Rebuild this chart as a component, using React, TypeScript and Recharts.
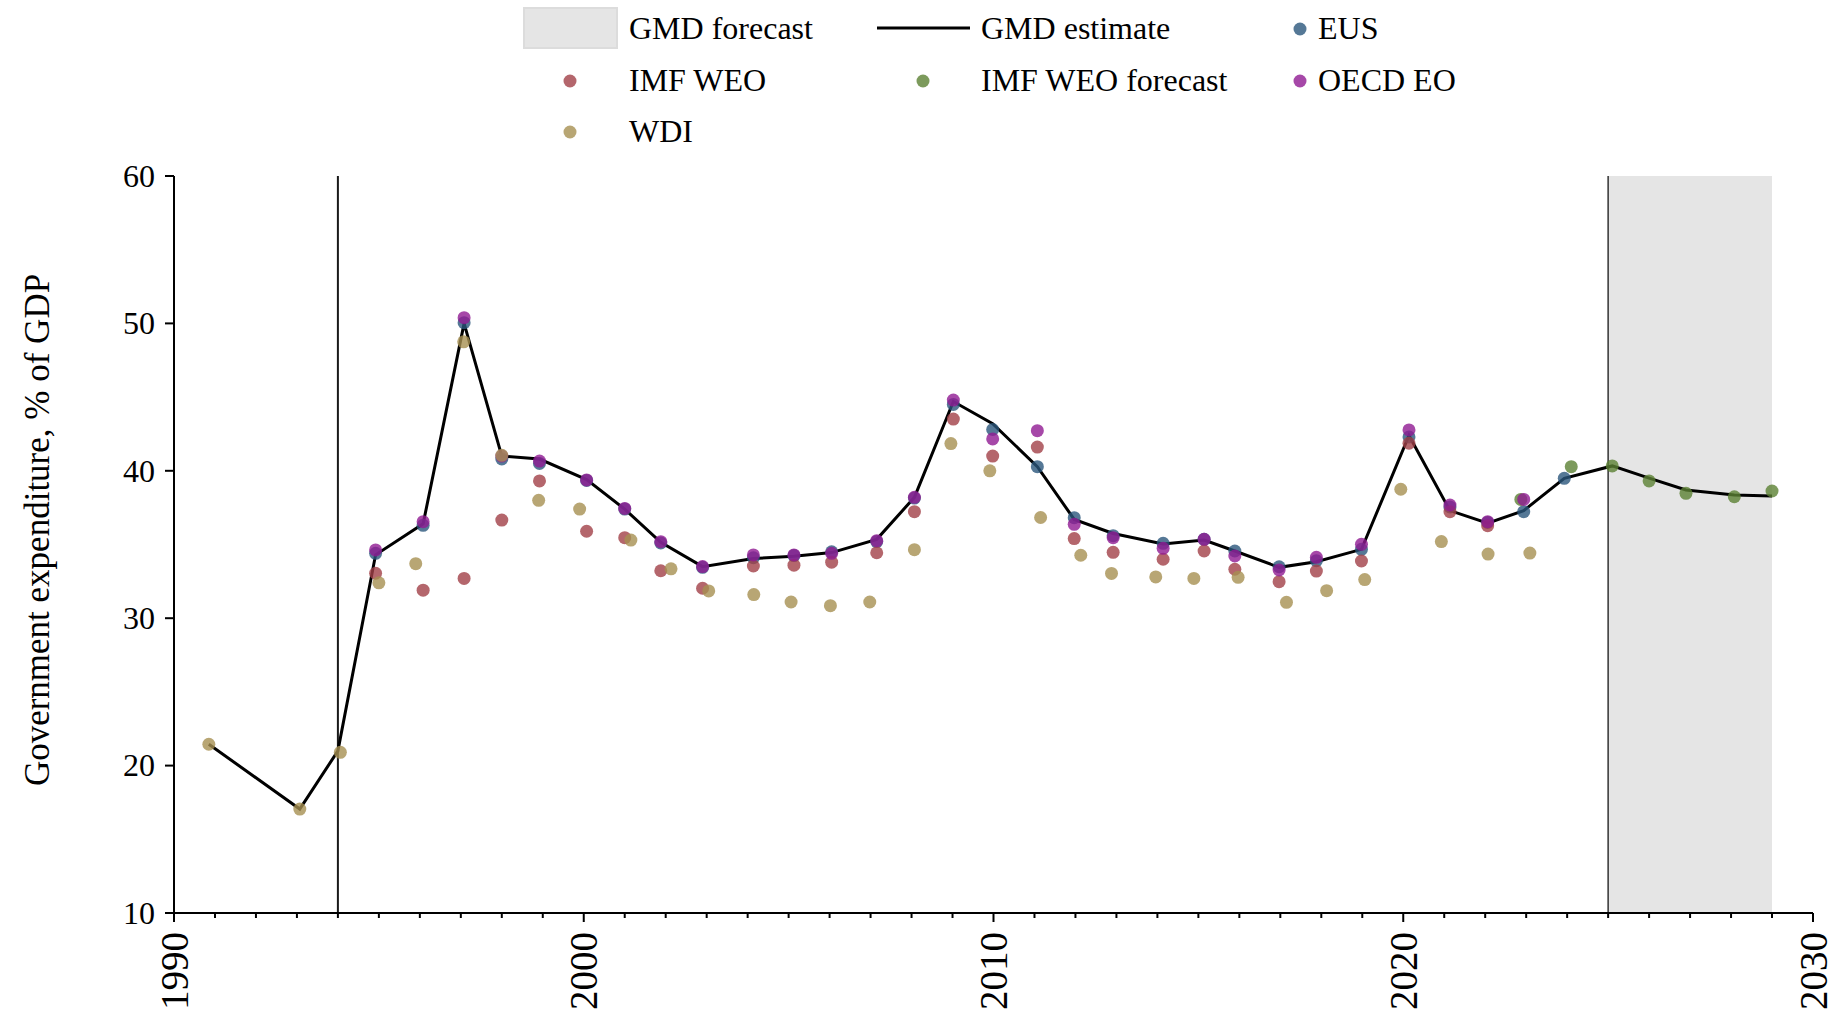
import {
  ComposedChart,
  Line,
  Scatter,
  XAxis,
  YAxis,
  ReferenceArea,
  ReferenceLine
} from "recharts";

type Pt = [number, number];

// [year, % of GDP] (years carry the small plotting offsets)
const gmdEstimate: Pt[] = [
  [1990.85, 21.45], [1993.07, 17.05], [1994.0, 21.0], [1994.92, 34.3], [1996.08, 36.4],
  [1997.08, 50.0], [1998.0, 41.0], [1998.92, 40.8], [2000.07, 39.4], [2001.0, 37.4],
  [2001.88, 35.15], [2002.9, 33.5], [2004.14, 34.05], [2005.13, 34.2], [2006.05, 34.45],
  [2007.15, 35.35], [2008.07, 38.2], [2009.02, 44.7], [2009.98, 43.2], [2011.07, 40.28],
  [2011.97, 36.7], [2012.92, 35.75], [2014.14, 35.03], [2015.14, 35.3], [2015.89, 34.56],
  [2016.97, 33.45], [2017.88, 33.83], [2018.98, 34.67], [2020.14, 42.4], [2021.14, 37.3],
  [2022.06, 36.44], [2022.94, 37.3], [2023.93, 39.49], [2025.1, 40.33], [2026.0, 39.5],
  [2026.9, 38.7], [2028.08, 38.36], [2029.0, 38.29]
];

const eus: Pt[] = [
  [1994.92, 34.4], [1996.08, 36.3], [1997.08, 50.05], [1998.0, 40.8], [1998.92, 40.5],
  [2000.07, 39.35], [2001.0, 37.4], [2001.88, 35.1], [2002.9, 33.45], [2004.14, 34.1],
  [2005.13, 34.25], [2006.05, 34.5], [2007.15, 35.2], [2008.07, 38.15], [2009.02, 44.5],
  [2009.98, 42.8], [2011.07, 40.28], [2011.97, 36.82], [2012.92, 35.6], [2014.14, 35.08],
  [2015.14, 35.35], [2015.89, 34.56], [2016.97, 33.49], [2017.88, 33.9], [2018.98, 34.67],
  [2020.14, 42.3], [2021.14, 37.55], [2022.06, 36.5], [2022.94, 37.23], [2023.93, 39.49]
];

const imfWeo: Pt[] = [
  [1994.92, 33.05], [1996.08, 31.9], [1997.08, 32.7], [1998.0, 36.66], [1998.92, 39.31],
  [2000.07, 35.9], [2001.0, 35.46], [2001.88, 33.22], [2002.9, 32.03], [2004.14, 33.54],
  [2005.13, 33.6], [2006.05, 33.8], [2007.15, 34.44], [2008.07, 37.23], [2009.02, 43.51],
  [2009.98, 41.0], [2011.07, 41.61], [2011.97, 35.4], [2012.92, 34.47], [2014.14, 34.0],
  [2015.14, 34.56], [2015.89, 33.32], [2016.97, 32.48], [2017.88, 33.2], [2018.98, 33.88],
  [2020.14, 41.87], [2021.14, 37.23], [2022.06, 36.28]
];

const imfWeoForecast: Pt[] = [
  [2022.87, 38.06], [2024.1, 40.28], [2025.1, 40.33], [2026.0, 39.31], [2026.9, 38.47],
  [2028.08, 38.24], [2029.0, 38.63]
];

const oecdEo: Pt[] = [
  [1994.92, 34.63], [1996.08, 36.55], [1997.08, 50.39], [1998.0, 41.0], [1998.92, 40.66],
  [2000.07, 39.38], [2001.0, 37.45], [2001.88, 35.19], [2002.9, 33.5], [2004.14, 34.29],
  [2005.13, 34.29], [2006.05, 34.4], [2007.15, 35.26], [2008.07, 38.2], [2009.02, 44.8],
  [2009.98, 42.16], [2011.07, 42.72], [2011.97, 36.37], [2012.92, 35.46], [2014.14, 34.74],
  [2015.14, 35.35], [2015.89, 34.22], [2016.97, 33.27], [2017.88, 34.13], [2018.98, 35.01],
  [2020.14, 42.77], [2021.14, 37.68], [2022.06, 36.55], [2022.94, 38.06]
];

const wdi: Pt[] = [
  [1990.85, 21.45], [1993.07, 17.05], [1994.06, 20.9], [1995.0, 32.4], [1995.9, 33.7],
  [1997.07, 48.75], [1998.0, 41.05], [1998.9, 38.0], [1999.9, 37.4], [2001.15, 35.3],
  [2002.13, 33.35], [2003.05, 31.85], [2004.15, 31.6], [2005.06, 31.1], [2006.02, 30.85],
  [2006.98, 31.1], [2008.07, 34.65], [2008.96, 41.85], [2009.91, 40.0], [2011.15, 36.83],
  [2012.13, 34.27], [2012.88, 33.04], [2013.96, 32.8], [2014.89, 32.7], [2015.97, 32.77],
  [2017.15, 31.08], [2018.13, 31.87], [2019.06, 32.62], [2019.94, 38.75], [2020.93, 35.2],
  [2022.07, 34.35], [2023.09, 34.42]
];

const xMajorTicks = [1990, 2000, 2010, 2020, 2030];
const xAllTicks = Array.from({ length: 41 }, (_, i) => 1990 + i);
const yTicks = [10, 20, 30, 40, 50, 60];
const forecastStart = 2025;
const forecastEnd = 2029;
const breakYear = 1994;

const FONT = "'Liberation Serif', 'Times New Roman', serif";
const textStyle = { fontFamily: FONT };

const COLORS = {
  eus: "#2a567c",
  imf: "#a14047",
  imfForecast: "#5b8133",
  oecd: "#901a92",
  wdi: "#a69051"
};

const rows = (pts: Pt[]) => pts.map(([x, y]) => ({ x, y }));

const dotShape = (color: string) => (p: any) => (
  <circle cx={p.cx} cy={p.cy} r={6.5} fill={color} fillOpacity={0.8} />
);

function XTick(props: any) {
  const { x, y, payload } = props;
  const major = xMajorTicks.includes(payload.value);
  const ty = y + 19;
  return (
    <g>
      <line x1={x} y1={y} x2={x} y2={y + (major ? 9 : 5)} stroke="#000" strokeWidth={2} />
      {major && (
        <text
          x={x}
          y={ty}
          transform={`rotate(-90, ${x}, ${ty})`}
          textAnchor="end"
          dy="0.35em"
          fontSize={39}
          style={textStyle}
          fill="#000"
        >
          {payload.value}
        </text>
      )}
    </g>
  );
}

function YTick(props: any) {
  const { x, y, payload } = props;
  return (
    <text
      x={x}
      y={y}
      textAnchor="end"
      dy="0.34em"
      fontSize={32}
      style={textStyle}
      fill="#000"
    >
      {payload.value}
    </text>
  );
}

function YLabel() {
  return (
    <text
      x={37}
      y={530}
      transform="rotate(-90, 37, 530)"
      textAnchor="middle"
      dominantBaseline="central"
      fontSize={35}
      style={textStyle}
      fill="#000"
    >
      Government expenditure, % of GDP
    </text>
  );
}

function LegendDot({ cx, cy, color }: { cx: number; cy: number; color: string }) {
  return <circle cx={cx} cy={cy} r={6.5} fill={color} fillOpacity={0.8} />;
}

function LegendText({ x, y, children }: { x: number; y: number; children: string }) {
  return (
    <text x={x} y={y + 10.5} fontSize={32} style={textStyle} fill="#000">
      {children}
    </text>
  );
}

function ChartLegend() {
  const r1 = 28, r2 = 80, r3 = 131;
  return (
    <svg width={1837} height={160} style={{ position: "absolute", left: 0, top: 0 }}>
      <rect x={524} y={8} width={93} height={40} fill="#e5e5e5" stroke="#dcdcdc" strokeWidth={2} />
      <LegendText x={629} y={r1}>GMD forecast</LegendText>
      <line x1={877} x2={970} y1={r1} y2={r1} stroke="#000" strokeWidth={3} />
      <LegendText x={981} y={r1}>GMD estimate</LegendText>
      <LegendDot cx={1300} cy={r1 + 1} color={COLORS.eus} />
      <LegendText x={1318} y={r1}>EUS</LegendText>

      <LegendDot cx={570} cy={r2 + 1} color={COLORS.imf} />
      <LegendText x={629} y={r2}>IMF WEO</LegendText>
      <LegendDot cx={923} cy={r2 + 1} color={COLORS.imfForecast} />
      <LegendText x={981} y={r2}>IMF WEO forecast</LegendText>
      <LegendDot cx={1300} cy={r2 + 1} color={COLORS.oecd} />
      <LegendText x={1318} y={r2}>OECD EO</LegendText>

      <LegendDot cx={570} cy={r3 + 1} color={COLORS.wdi} />
      <LegendText x={629} y={r3}>WDI</LegendText>
    </svg>
  );
}

export default function App() {
  return (
    <div
      style={{
        position: "absolute",
        left: 0,
        top: 0,
        width: 1837,
        height: 1017,
        background: "#fff",
        fontFamily: FONT
      }}
    >
      <ComposedChart
        width={1837}
        height={1017}
        margin={{ top: 176, right: 24, bottom: 0, left: 0 }}
        style={{ fontFamily: FONT }}
      >
        <XAxis
          type="number"
          dataKey="x"
          domain={[1990, 2030]}
          ticks={xAllTicks}
          interval={0}
          height={104}
          tickLine={false}
          tickSize={0}
          tickMargin={0}
          tick={<XTick />}
          axisLine={{ stroke: "#000", strokeWidth: 2 }}
          allowDecimals={false}
        />
        <YAxis
          type="number"
          dataKey="y"
          domain={[10, 60]}
          ticks={yTicks}
          interval={0}
          width={174}
          tickSize={9}
          tickMargin={10}
          tickLine={{ stroke: "#000", strokeWidth: 2 }}
          axisLine={{ stroke: "#000", strokeWidth: 2 }}
          tick={<YTick />}
          label={<YLabel />}
        />

        <ReferenceArea
          x1={forecastStart}
          x2={forecastEnd}
          fill="#e5e5e5"
          fillOpacity={1}
          stroke="none"
        />
        <ReferenceLine x={breakYear} stroke="#1a1a1a" strokeWidth={2} />
        <ReferenceLine x={forecastStart} stroke="#333" strokeWidth={1.5} />

        <Line
          data={rows(gmdEstimate)}
          dataKey="y"
          stroke="#000"
          strokeWidth={3}
          dot={false}
          activeDot={false}
          isAnimationActive={false}
          type="linear"
        />
        <Scatter data={rows(eus)} dataKey="y" shape={dotShape(COLORS.eus)} isAnimationActive={false} />
        <Scatter data={rows(imfWeo)} dataKey="y" shape={dotShape(COLORS.imf)} isAnimationActive={false} />
        <Scatter
          data={rows(imfWeoForecast)}
          dataKey="y"
          shape={dotShape(COLORS.imfForecast)}
          isAnimationActive={false}
        />
        <Scatter data={rows(oecdEo)} dataKey="y" shape={dotShape(COLORS.oecd)} isAnimationActive={false} />
        <Scatter data={rows(wdi)} dataKey="y" shape={dotShape(COLORS.wdi)} isAnimationActive={false} />
      </ComposedChart>
      <ChartLegend />
    </div>
  );
}
